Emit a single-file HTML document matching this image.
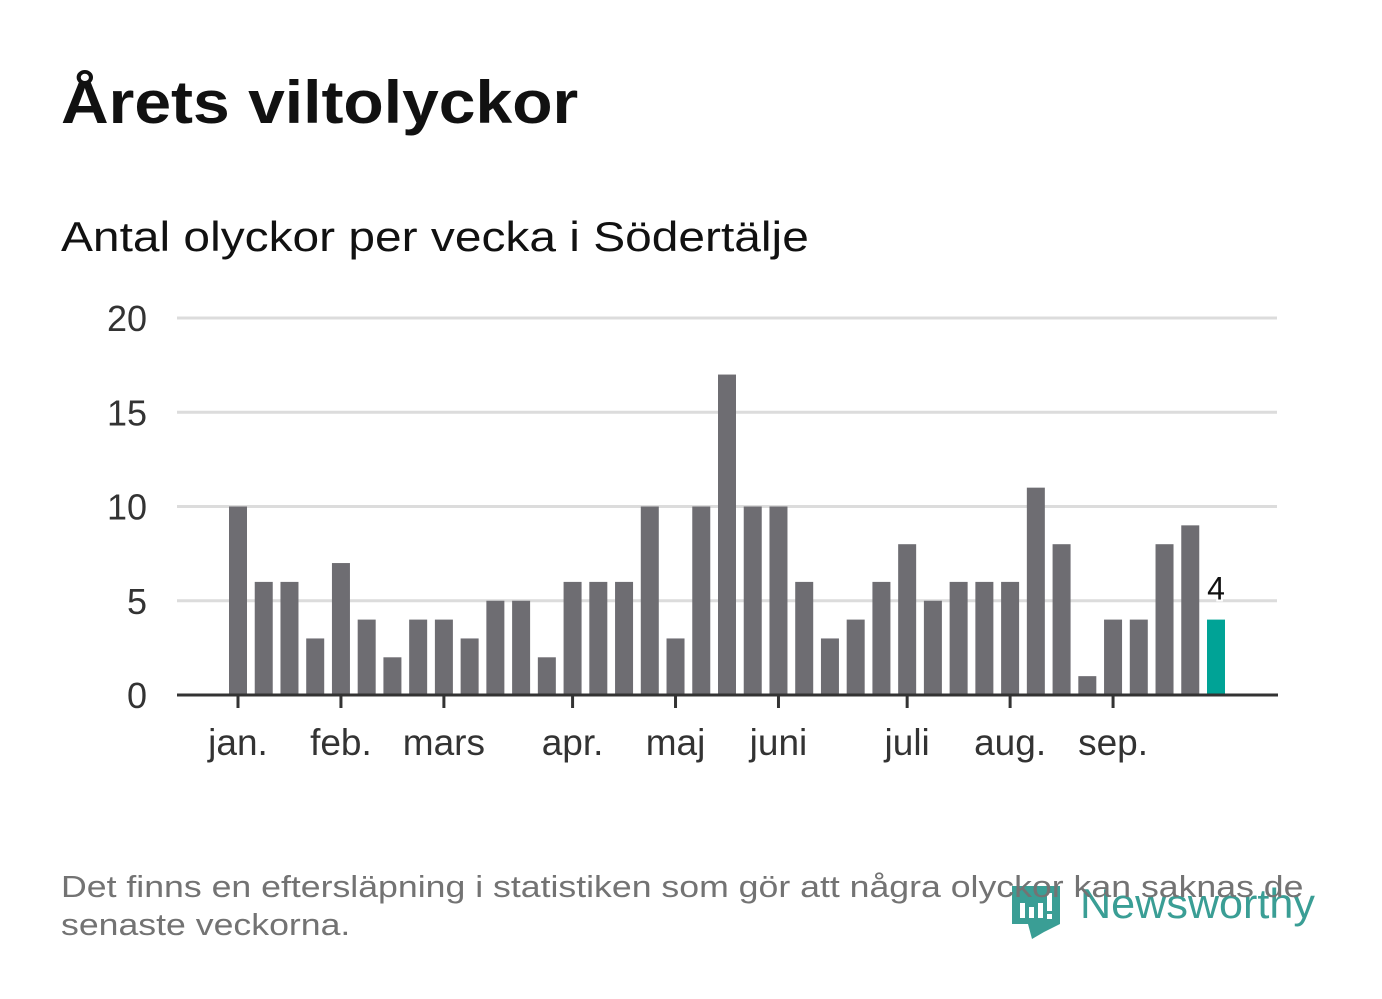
<!DOCTYPE html>
<html><head><meta charset="utf-8"><style>
body{margin:0;width:1382px;height:999px;background:#fff;overflow:hidden;font-family:"Liberation Sans","Noto Sans CJK SC",sans-serif;position:relative}
.t{position:absolute;white-space:nowrap;transform-origin:0 0}
</style></head><body>
<div class="t" style="left:61px;top:68px;font-size:60px;font-weight:bold;color:#111;transform:scaleX(1.1)">Årets viltolyckor</div>
<div class="t" style="left:61px;top:213px;font-size:42px;color:#111;transform:scaleX(1.14)">Antal olyckor per vecka i Södertälje</div>
<svg style="position:absolute;left:0;top:0" width="1382" height="999">
<path d="M1012 886 h48 v38 l-16 8 l-12 7 l-4 -15 h-16z" fill="#3a9e95"/>
<rect x="1020" y="903" width="5" height="15" fill="#fff"/><rect x="1029" y="907" width="5" height="11" fill="#fff"/><rect x="1038" y="903" width="5" height="15" fill="#fff"/><rect x="1047" y="893" width="5" height="18" fill="#fff"/><rect x="1047" y="914" width="5" height="5" fill="#fff"/>
<text x="1080" y="918" font-size="42" fill="#3a9e95" font-family="Liberation Sans, sans-serif" textLength="235" lengthAdjust="spacingAndGlyphs">Newsworthy</text>
</svg>
<svg id="chart" style="position:absolute;left:0;top:0" width="1382" height="999"></svg>
<div class="t" style="left:61px;top:868px;font-size:31px;line-height:38px;color:#737373;transform:scaleX(1.15)">Det finns en eftersläpning i statistiken som gör att några olyckor kan saknas de<br>senaste veckorna.</div>
<script>
const values=[10,6,6,3,7,4,2,4,4,3,5,5,2,6,6,6,10,3,10,17,10,10,6,3,4,6,8,5,6,6,6,11,8,1,4,4,8,9,4];
const monthLabels=["jan.","feb.","mars","apr.","maj","juni","juli","aug.","sep."];
const monthIdx=[0,4,8,13,17,21,26,30,34];
const yTicks=[0,5,10,15,20];
const NS="http://www.w3.org/2000/svg";
const svg=document.getElementById('chart');
const x0=238,step=(1216-238)/38,bw=18;
const xs=i=>x0+i*step;
const ys=v=>695-v*(695-318)/20;
function mk(t,a){const e=document.createElementNS(NS,t);for(const k in a)e.setAttribute(k,a[k]);svg.appendChild(e);return e;}
yTicks.forEach(v=>{
 if(v>0){const g=mk('line',{x1:177,x2:1277,y1:ys(v),y2:ys(v),stroke:'#dcdcdc','stroke-width':3});
 
 }
 const t=mk('text',{x:147,y:ys(v)+13,'text-anchor':'end','font-size':36,fill:'#333','font-family':'Liberation Sans, sans-serif'});t.textContent=v;
 
 
});
values.forEach((v,i)=>{
 const last=i===values.length-1;
 const r=mk('rect',{x:xs(i)-bw/2,y:ys(v),width:bw,height:ys(0)-ys(v),fill:last?'#00a396':'#6e6d72'});
 
 
 if(last){const t=mk('text',{x:xs(i),y:ys(v)-20,'text-anchor':'middle','font-size':32,fill:'#111',stroke:'#fff','stroke-width':4,'paint-order':'stroke','font-family':'Liberation Sans, sans-serif'});t.textContent=v;
 
 }
});
const ax=mk('line',{x1:177,x2:1278,y1:695,y2:695,stroke:'#333','stroke-width':3});


monthIdx.forEach((m,j)=>{
 const tk=mk('line',{x1:xs(m),x2:xs(m),y1:695,y2:708,stroke:'#333','stroke-width':3});
 
 
 const t=mk('text',{x:xs(m),y:755,'text-anchor':'middle','font-size':37,fill:'#333','font-family':'Liberation Sans, sans-serif'});t.textContent=monthLabels[j];
 
 
});
</script>
</body></html>
